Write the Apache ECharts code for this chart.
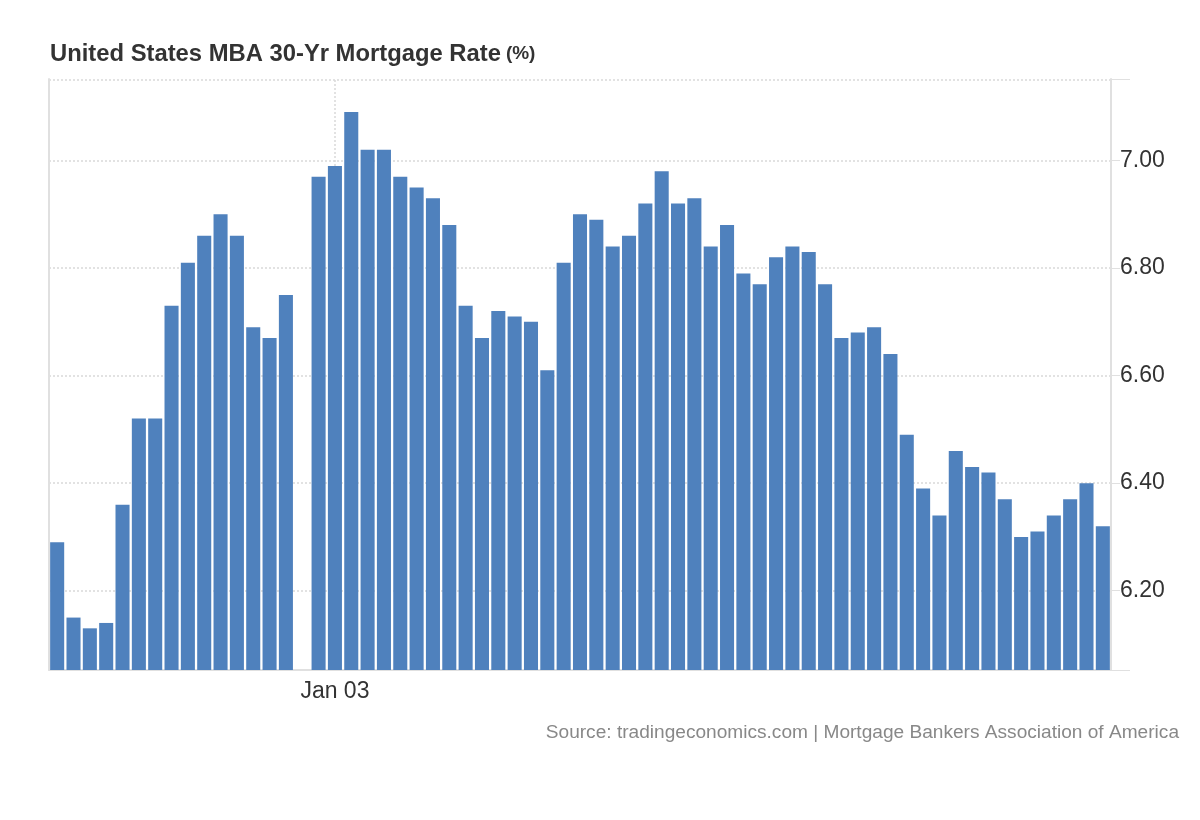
<!DOCTYPE html>
<html>
<head>
<meta charset="utf-8">
<script src="https://cdn.jsdelivr.net/npm/echarts@6/dist/echarts.min.js"></script>
<style>
html,body{margin:0;padding:0;background:#fff;}
#chart{width:1200px;height:820px;}
</style>
</head>
<body>
<div id="chart"></div>
<script>
// Weekly observations (week ending), Sep 2024 - Nov 2025
const categories = ['Sep 06','Sep 13','Sep 20','Sep 27','Oct 04','Oct 11','Oct 18','Oct 25','Nov 01','Nov 08','Nov 15','Nov 22','Nov 29','Dec 06','Dec 13','Dec 20','Dec 27','Jan 03','Jan 10','Jan 17','Jan 24','Jan 31','Feb 07','Feb 14','Feb 21','Feb 28','Mar 07','Mar 14','Mar 21','Mar 28','Apr 04','Apr 11','Apr 18','Apr 25','May 02','May 09','May 16','May 23','May 30','Jun 06','Jun 13','Jun 20','Jun 27','Jul 04','Jul 11','Jul 18','Jul 25','Aug 01','Aug 08','Aug 15','Aug 22','Aug 29','Sep 05','Sep 12','Sep 19','Sep 26','Oct 03','Oct 10','Oct 17','Oct 24','Oct 31','Nov 07','Nov 14','Nov 21','Nov 28'];
const rates = [6.29,6.15,6.13,6.14,6.36,6.52,6.52,6.73,6.81,6.86,6.90,6.86,6.69,6.67,6.75,null,6.97,6.99,7.09,7.02,7.02,6.97,6.95,6.93,6.88,6.73,6.67,6.72,6.71,6.70,6.61,6.81,6.90,6.89,6.84,6.86,6.92,6.98,6.92,6.93,6.84,6.88,6.79,6.77,6.82,6.84,6.83,6.77,6.67,6.68,6.69,6.64,6.49,6.39,6.34,6.46,6.43,6.42,6.37,6.30,6.31,6.34,6.37,6.40,6.32];
const xTickLabels = ['Jan 03'];
const yTickValues = [6.2, 6.4, 6.6, 6.8, 7.0];
const yMin = 6.0525;
const yMax = 7.1516;

const FONT = "'Liberation Sans', Arial, Helvetica, sans-serif";
const chart = echarts.init(document.getElementById('chart'), null, {renderer: 'canvas'});

const gridLineData = yTickValues.concat([yMax]).map(v => ({yAxis: v}))
  .concat(xTickLabels.map(c => ({xAxis: c})));

chart.setOption({
  animation: false,
  backgroundColor: '#fff',
  title: [{
    left: 45, top: 35,
    text: '{a|United States MBA 30-Yr Mortgage Rate} {b|(%)}',
    textStyle: {
      rich: {
        a: {fontFamily: FONT, fontSize: 23.8, fontWeight: 'bold', color: '#333', lineHeight: 28},
        b: {fontFamily: FONT, fontSize: 19, fontWeight: 'bold', color: '#333', lineHeight: 28}
      }
    }
  }, {
    right: 16, top: 718,
    text: 'Source: tradingeconomics.com | Mortgage Bankers Association of America',
    textStyle: {fontFamily: FONT, fontSize: 19.1, fontWeight: 'normal', color: '#888'}
  }],
  grid: {left: 49, right: 89, top: 79, bottom: 150, containLabel: false},
  xAxis: {
    type: 'category',
    data: categories,
    boundaryGap: true,
    axisLine: {show: true, lineStyle: {color: '#e0e0e0', width: 2}},
    axisTick: {show: false},
    splitLine: {show: false},
    axisLabel: {
      interval: (i, v) => xTickLabels.indexOf(v) >= 0,
      fontFamily: FONT, fontSize: 23, color: '#333', margin: 10
    }
  },
  yAxis: [{
    type: 'value',
    position: 'right',
    min: yMin, max: yMax,
    axisLine: {show: true, lineStyle: {color: '#e0e0e0', width: 2}},
    axisTick: {show: true, customValues: yTickValues, length: 9, lineStyle: {color: '#e0e0e0', width: 1}},
    splitLine: {show: false},
    axisLabel: {
      customValues: yTickValues,
      formatter: v => Number(v).toFixed(2),
      fontFamily: FONT, fontSize: 23, color: '#333', margin: 9
    }
  }, {
    type: 'value',
    position: 'right',
    min: yMin, max: yMax,
    axisLine: {show: false},
    axisTick: {show: true, customValues: [yMin, yMax], length: 19, lineStyle: {color: '#e0e0e0', width: 1}},
    axisLabel: {show: false},
    splitLine: {show: false}
  }, {
    type: 'value',
    position: 'left',
    min: yMin, max: yMax,
    axisLine: {show: true, lineStyle: {color: '#e0e0e0', width: 2}},
    axisTick: {show: false},
    axisLabel: {show: false},
    splitLine: {show: false}
  }],
  series: [{
    type: 'line',
    data: [],
    z: 0,
    silent: true,
    markLine: {
      z: 0,
      silent: true,
      symbol: 'none',
      label: {show: false},
      lineStyle: {type: [2, 2], color: '#d9d9d9', width: 1.5},
      data: gridLineData
    }
  }, {
    type: 'bar',
    data: rates,
    yAxisIndex: 0,
    z: 3,
    barCategoryGap: '14%',
    itemStyle: {color: '#4f81bd'}
  }]
});
</script>
</body>
</html>
